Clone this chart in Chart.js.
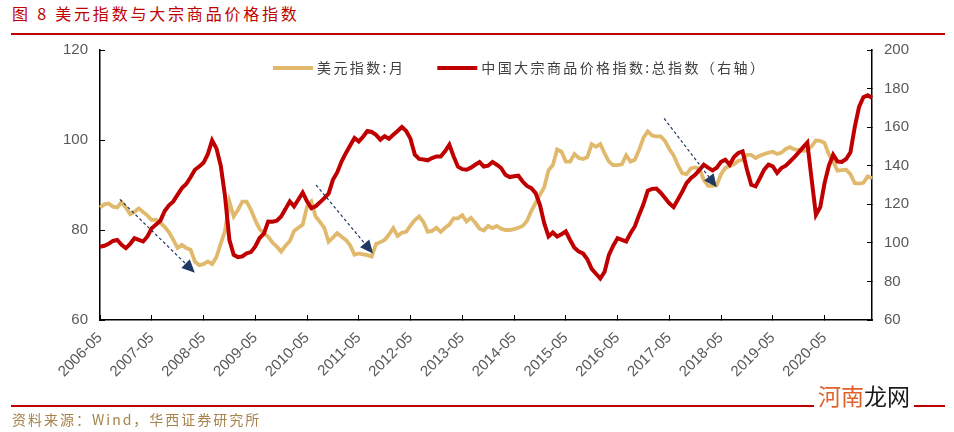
<!DOCTYPE html>
<html>
<head>
<meta charset="utf-8">
<title>美元指数与大宗商品价格指数</title>
<script src="https://cdn.jsdelivr.net/npm/chart.js@4.4.1/dist/chart.umd.min.js"></script>
<style>
    html, body { margin: 0; padding: 0; background: #fff; }
    #wrap { position: relative; width: 954px; height: 432px; overflow: hidden; }
    #chart { position: absolute; left: 0; top: 0; }
    .title { position: absolute; left: 12px; top: 1px; font-family: "Noto Sans CJK SC"; font-size: 16px; color: #C00000; letter-spacing: 2.8px; white-space: nowrap; }
    .rule { position: absolute; left: 11px; width: 934px; height: 2px; background: #C00000; }
    .source { position: absolute; left: 12px; top: 409px; font-family: "Noto Sans CJK SC"; font-size: 14px; color: #A5834B; letter-spacing: 2px; white-space: nowrap; }
    .mark { position: absolute; left: 814px; top: 380px; padding: 0 4px; background: #fff; font-family: "Noto Sans CJK SC"; font-size: 23px; line-height: 30px; color: #1a1a1a; white-space: nowrap; }
    .mark span { color: #E0622A; }
</style>
</head>
<body>
<div id="wrap">
    <div class="title">图 8 美元指数与大宗商品价格指数</div>
    <div class="rule" style="top:33px"></div>
    <canvas id="chart" width="954" height="432"></canvas>
    <div class="rule" style="top:405px"></div>
    <div class="source">资料来源：Wind，华西证券研究所</div>
    <div class="mark"><span>河南</span>龙网</div>
</div>
<script>
    // months 2006-05 .. 2021-04
    const months = [];
    for (let i = 0; i < 180; i++) {
        const m = (5 - 1 + i) % 12 + 1;
        const y = 2006 + Math.floor((5 - 1 + i) / 12);
        months.push(y + '-' + (m < 10 ? '0' + m : m));
    }

    // 美元指数:月 (left axis)
    const usdIndex = [
        85.0, 85.7, 85.9, 85.2, 85.0, 86.2, 85.0, 83.5, 84.0, 84.8, 84.0, 83.2,
        82.2, 82.3, 81.6, 80.7, 79.5, 77.8, 76.0, 76.7, 76.0, 75.6, 73.0, 72.2,
        72.4, 73.0, 72.4, 74.0, 77.0, 79.8, 86.3, 83.0, 84.5, 86.3, 86.3, 84.5,
        82.2, 80.2, 79.3, 78.5, 77.2, 76.3, 75.2, 76.5, 77.5, 79.8, 80.5, 81.2,
        85.2, 86.3, 83.0, 81.8, 80.5, 77.4, 78.3, 79.3, 78.5, 77.8, 76.6, 74.5,
        74.8, 74.6, 74.4, 74.1, 76.9, 77.3, 77.8, 79.0, 80.4, 78.7, 79.4, 79.6,
        81.0, 82.2, 83.0, 81.8, 79.6, 79.8, 80.5, 79.6, 80.5, 81.2, 82.6, 82.6,
        83.3, 81.9, 82.7, 81.6, 80.3, 79.9, 80.9, 80.4, 80.9, 80.3, 80.0, 80.0,
        80.2, 80.5, 80.9, 82.0, 84.2, 86.0, 87.8, 89.5, 93.3, 94.4, 97.9, 97.4,
        95.2, 95.2, 96.9, 96.0, 95.8, 96.2, 99.1, 98.5, 99.1, 97.0, 95.2, 94.4,
        94.4, 94.6, 96.6, 95.2, 95.6, 97.8, 100.5, 101.9, 101.0, 100.8, 100.8, 99.8,
        98.0, 96.6, 94.4, 92.6, 92.4, 93.7, 93.9, 93.6, 91.1, 89.8, 89.8, 90.0,
        92.4, 93.8, 94.2, 94.6, 95.4, 95.6, 96.7, 96.7, 96.0, 96.5, 96.9, 97.2,
        97.4, 96.9, 97.2, 98.0, 98.4, 97.9, 97.8, 97.6, 97.7, 98.6, 99.9, 99.8,
        99.3, 96.8, 95.2, 93.2, 93.3, 93.4, 92.4, 90.4, 90.3, 90.5, 91.9, 91.5
    ];

    // 中国大宗商品价格指数:总指数 (right axis)
    const commodityIndex = [
        98.0, 98.5, 99.5, 101.0, 101.5, 99.0, 97.3, 99.5, 102.4, 101.5, 100.7, 103.3,
        107.6, 109.5, 111.5, 116.5, 119.5, 121.5, 125.0, 128.4, 130.5, 134.0, 137.9, 139.6,
        141.5, 146.0, 153.1, 149.0, 140.0, 124.0, 101.6, 93.8, 92.6, 93.0, 94.6, 95.2,
        98.1, 102.5, 104.8, 111.1, 111.0, 111.5, 113.7, 117.5, 121.5, 118.9, 122.5, 126.1,
        121.5, 118.0, 119.0, 121.0, 123.2, 125.5, 132.7, 136.5, 142.2, 146.5, 150.5, 154.4,
        152.6, 155.0, 158.0, 157.5, 156.0, 153.5, 155.3, 154.0, 156.0, 158.0, 160.1, 158.0,
        153.9, 145.7, 143.5, 143.2, 142.8, 144.0, 144.8, 144.8, 147.5, 150.9, 144.8, 139.5,
        138.2, 137.9, 139.0, 140.5, 141.9, 139.6, 140.0, 141.9, 140.5, 138.8, 135.3, 134.1,
        134.5, 134.8, 131.8, 129.5, 128.4, 125.8, 119.7, 110.2, 103.3, 105.4, 103.3, 104.5,
        105.9, 101.5, 97.5, 95.5, 94.5, 91.5, 86.5, 84.0, 81.5, 85.0, 93.8, 98.5,
        102.4, 101.5, 100.7, 105.0, 108.5, 114.5, 120.0, 127.0, 128.0, 128.2, 126.0, 123.2,
        120.5, 118.5, 122.5, 126.5, 131.0, 133.5, 135.3, 137.8, 140.5, 139.0, 137.6, 139.0,
        142.0, 143.1, 140.5, 144.5, 146.6, 147.4, 138.0, 130.1, 129.3, 133.5, 138.0, 140.5,
        139.6, 136.2, 138.8, 140.0, 142.2, 144.5, 146.9, 149.5, 152.0, 133.0, 114.5, 118.5,
        131.0, 140.0, 145.7, 142.2, 142.0, 143.5, 147.0, 160.0, 170.5, 175.5, 176.5, 175.2
    ];

    const leftTicks = [60, 80, 100, 120];
    const rightTicks = [60, 80, 100, 120, 140, 160, 180, 200];

    // dashed arrows, [month index, left-axis value]
    const trendArrows = [
        { from: [4.6, 86.8], to: [22.0, 70.5] },
        { from: [50.1, 90.0], to: [63.3, 74.8] },
        { from: [130.8, 104.8], to: [143.0, 89.5] }
    ];

    const tickColor = '#595959';
    const tickFont = { family: 'Liberation Sans, Arial', size: 15 };

    //arrows
    const arrowPlugin = {
        id: 'arrows',
        afterDatasetsDraw(chart) {
            const ctx = chart.ctx, x = chart.scales.x, y = chart.scales.yLeft;
            ctx.save();
            ctx.strokeStyle = '#203864';
            ctx.fillStyle = '#203864';
            ctx.lineWidth = 1.2;
            trendArrows.forEach(a => {
                const x1 = x.getPixelForValue(a.from[0]), y1 = y.getPixelForValue(a.from[1]);
                const x2 = x.getPixelForValue(a.to[0]), y2 = y.getPixelForValue(a.to[1]);
                const ang = Math.atan2(y2 - y1, x2 - x1);
                const len = 13, half = 6;
                const bx = x2 - len * Math.cos(ang), by = y2 - len * Math.sin(ang);
                ctx.setLineDash([3, 2.5]);
                ctx.beginPath();
                ctx.moveTo(x1, y1);
                ctx.lineTo(bx, by);
                ctx.stroke();
                ctx.setLineDash([]);
                ctx.beginPath();
                ctx.moveTo(x2, y2);
                ctx.lineTo(bx + half * Math.sin(ang), by - half * Math.cos(ang));
                ctx.lineTo(bx - half * Math.sin(ang), by + half * Math.cos(ang));
                ctx.closePath();
                ctx.fill();
            });
            ctx.restore();
        }
    };

    //legend
    const legendPlugin = {
        id: 'lineLegend',
        afterDraw(chart) {
            const ctx = chart.ctx;
            let px = 273;
            const py = 68;
            ctx.save();
            ctx.font = '14px "Noto Sans CJK SC"';
            ctx.letterSpacing = '2.4px';
            ctx.textBaseline = 'middle';
            chart.data.datasets.forEach(ds => {
                ctx.fillStyle = ds.borderColor;
                ctx.fillRect(px, py - 2, 40, 4);
                ctx.fillStyle = '#404040';
                ctx.fillText(ds.label, px + 44, py);
                px += 44 + ctx.measureText(ds.label).width + 32;
            });
            ctx.restore();
        }
    };

    new Chart(document.getElementById('chart'), {
        type: 'line',
        data: {
            labels: months,
            datasets: [
                {
                    label: '美元指数:月',
                    data: usdIndex,
                    yAxisID: 'yLeft',
                    borderColor: '#E1B96C',
                    backgroundColor: '#E1B96C',
                    borderWidth: 3.8,
                    pointRadius: 0,
                    order: 1
                },
                {
                    label: '中国大宗商品价格指数:总指数（右轴）',
                    data: commodityIndex,
                    yAxisID: 'yRight',
                    borderColor: '#C00000',
                    backgroundColor: '#C00000',
                    borderWidth: 4,
                    pointRadius: 0,
                    order: 0
                }
            ]
        },
        options: {
            responsive: false,
            animation: false,
            layout: { padding: { top: 50, left: 0, right: 0, bottom: 0 } },
            plugins: {
                legend: { display: false },
                tooltip: { enabled: false }
            },
            scales: {
                x: {
                    grid: { drawOnChartArea: false, tickLength: -5, color: '#000' },
                    border: { color: '#000', width: 1.5 },
                    ticks: {
                        autoSkip: false,
                        maxRotation: 45,
                        minRotation: 45,
                        padding: 14,
                        color: tickColor,
                        font: tickFont,
                        callback: function (val, idx) {
                            return idx % 12 === 0 ? this.getLabelForValue(val) : null;
                        }
                    },
                    afterFit: s => { s.height = 112; }
                },
                yLeft: {
                    position: 'left',
                    min: 60, max: 120,
                    afterBuildTicks: s => { s.ticks = leftTicks.map(v => ({ value: v })); },
                    grid: { drawOnChartArea: false, tickLength: -5, color: '#000' },
                    border: { color: '#000', width: 1.5 },
                    ticks: { padding: 17, color: tickColor, font: tickFont },
                    afterFit: s => { s.width = 100; }
                },
                yRight: {
                    position: 'right',
                    min: 60, max: 200,
                    afterBuildTicks: s => { s.ticks = rightTicks.map(v => ({ value: v })); },
                    grid: { drawOnChartArea: false, tickLength: -5, color: '#000' },
                    border: { color: '#000', width: 1.5 },
                    ticks: { padding: 17, color: tickColor, font: tickFont },
                    afterFit: s => { s.width = 82; }
                }
            }
        },
        plugins: [arrowPlugin, legendPlugin]
    });
</script>
</body>
</html>
